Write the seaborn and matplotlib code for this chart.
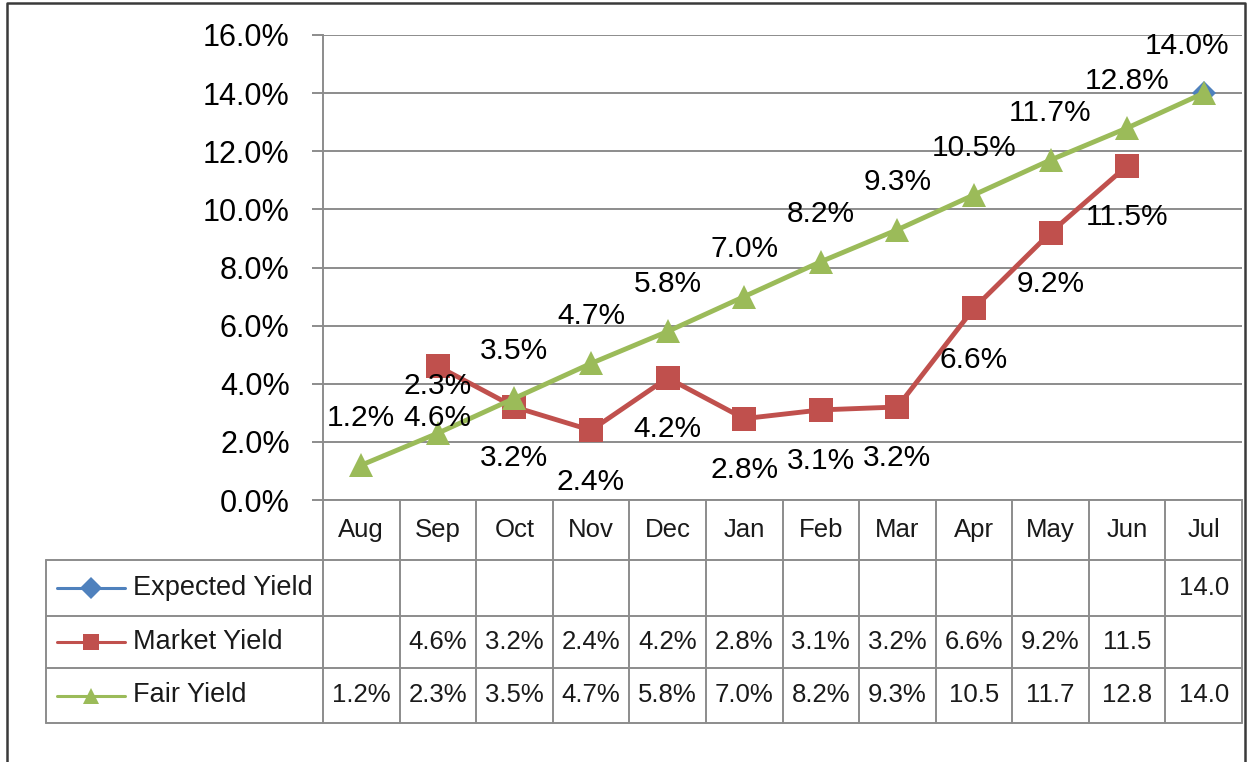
import numpy as np
import pandas as pd
import seaborn as sns
import matplotlib.pyplot as plt
from matplotlib.lines import Line2D
from matplotlib.ticker import FuncFormatter
from matplotlib.transforms import blended_transform_factory

# data (percent)
months = ['Aug', 'Sep', 'Oct', 'Nov', 'Dec', 'Jan', 'Feb', 'Mar', 'Apr', 'May', 'Jun', 'Jul']
expected_yield = [np.nan] * 11 + [14.0]
market_yield = [np.nan, 4.6, 3.2, 2.4, 4.2, 2.8, 3.1, 3.2, 6.6, 9.2, 11.5, np.nan]
fair_yield = [1.2, 2.3, 3.5, 4.7, 5.8, 7.0, 8.2, 9.3, 10.5, 11.7, 12.8, 14.0]
series_names = ['Expected Yield', 'Market Yield', 'Fair Yield']

colors = {'Expected Yield': '#4F81BD', 'Market Yield': '#C0504D', 'Fair Yield': '#9BBB59'}
markers = {'Expected Yield': 'D', 'Market Yield': 's', 'Fair Yield': '^'}
grid_c = '#8c8c8c'

sns.set_theme(style='white')
plt.rcParams['font.family'] = ['Liberation Sans', 'DejaVu Sans']

W, H = 1248, 762
fig = plt.figure(figsize=(W / 100, H / 100), dpi=100)
fx = lambda px: px / W
fy = lambda px: 1 - px / H
ax_l, ax_r, ax_t, ax_b = 323, 1242, 35, 500
ax = fig.add_axes([fx(ax_l), fy(ax_b), fx(ax_r - ax_l), (ax_b - ax_t) / H])

wide = pd.DataFrame({'pos': range(len(months)),
                     'Expected Yield': expected_yield,
                     'Market Yield': market_yield,
                     'Fair Yield': fair_yield})
df = wide.melt(id_vars='pos', var_name='series', value_name='yield').dropna()

sns.lineplot(data=df, x='pos', y='yield', hue='series', style='series',
             hue_order=series_names, style_order=series_names,
             palette=colors, markers=markers, dashes=False,
             linewidth=3.5, markersize=17, markeredgewidth=0,
             legend=False, ax=ax)
# the lone expected point sits mostly hidden behind the fair triangle
for ln in ax.lines:
    if ln.get_marker() == 'D':
        ln.set_markersize(12)

ax.set_xlim(-0.5, 11.5)
ax.set_ylim(0, 16)
ax.set_yticks(np.arange(0, 17, 2))
ax.yaxis.set_major_formatter(FuncFormatter(lambda v, p: f'{v:.1f}%'))
ax.set_xticks([])
ax.set_xlabel('')
ax.set_ylabel('')
ax.grid(axis='y', color=grid_c, lw=1.4)
ax.tick_params(axis='y', left=True, length=8, width=1.4, color=grid_c, pad=16,
               labelsize=22, labelcolor='black')
for s in ['top', 'right']:
    ax.spines[s].set_visible(False)
for s in ['left', 'bottom']:
    ax.spines[s].set_color(grid_c)
    ax.spines[s].set_linewidth(1.4)

# data labels
for i, v in enumerate(fair_yield):
    dx = -12 if i == len(months) - 1 else 0
    ax.annotate(f'{v:.1f}%', (i, v), xytext=(dx, 34), textcoords='offset points',
                ha='center', va='center', fontsize=21.5, color='black')
for i, v in enumerate(market_yield):
    if np.isnan(v):
        continue
    ax.annotate(f'{v:.1f}%', (i, v), xytext=(0, -37), textcoords='offset points',
                ha='center', va='center', fontsize=21.5, color='black')

# data table under the chart
trans = blended_transform_factory(ax.transData, fig.transFigure)
hdr_top, hdr_bot = 500, 560
row_edges = [560, 616, 668, 723]
leg_left = 46

for b in np.arange(-0.5, len(months)):
    ax.plot([b, b], [fy(hdr_top), fy(row_edges[-1])], transform=trans,
            clip_on=False, color=grid_c, lw=1.4)
for y in row_edges:
    fig.add_artist(Line2D([fx(leg_left), fx(ax_r)], [fy(y), fy(y)], color=grid_c, lw=1.4))
fig.add_artist(Line2D([fx(leg_left), fx(leg_left)], [fy(row_edges[0]), fy(row_edges[-1])],
                      color=grid_c, lw=1.4))

for i, m in enumerate(months):
    ax.text(i, fy((hdr_top + hdr_bot) / 2), m, transform=trans, ha='center', va='center',
            fontsize=18.5, color='#1a1a1a')

table_rows = [expected_yield, market_yield, fair_yield]
for r, (name, vals) in enumerate(zip(series_names, table_rows)):
    yc = fy((row_edges[r] + row_edges[r + 1]) / 2)
    for i, v in enumerate(vals):
        if np.isnan(v):
            continue
        txt = f'{v:.1f}%' if v < 10 else f'{v:.1f}'
        ax.text(i, yc, txt, transform=trans, ha='center', va='center',
                fontsize=18.5, color='#1a1a1a')
    c = colors[name]
    fig.add_artist(Line2D([fx(57), fx(125)], [yc, yc], color=c, lw=2.2))
    fig.add_artist(Line2D([fx(91)], [yc], color=c, marker=markers[name],
                          markersize=11, markeredgewidth=0))
    fig.text(fx(133), yc, name, ha='left', va='center', fontsize=19.5, color='#1a1a1a')

# outer chart frame
fig.add_artist(Line2D([fx(7), fx(7), fx(1245), fx(1245)], [fy(H), fy(3), fy(3), fy(H)],
                      color='#3a3a3a', lw=1.8))

fig.savefig('out.png', dpi=100)
